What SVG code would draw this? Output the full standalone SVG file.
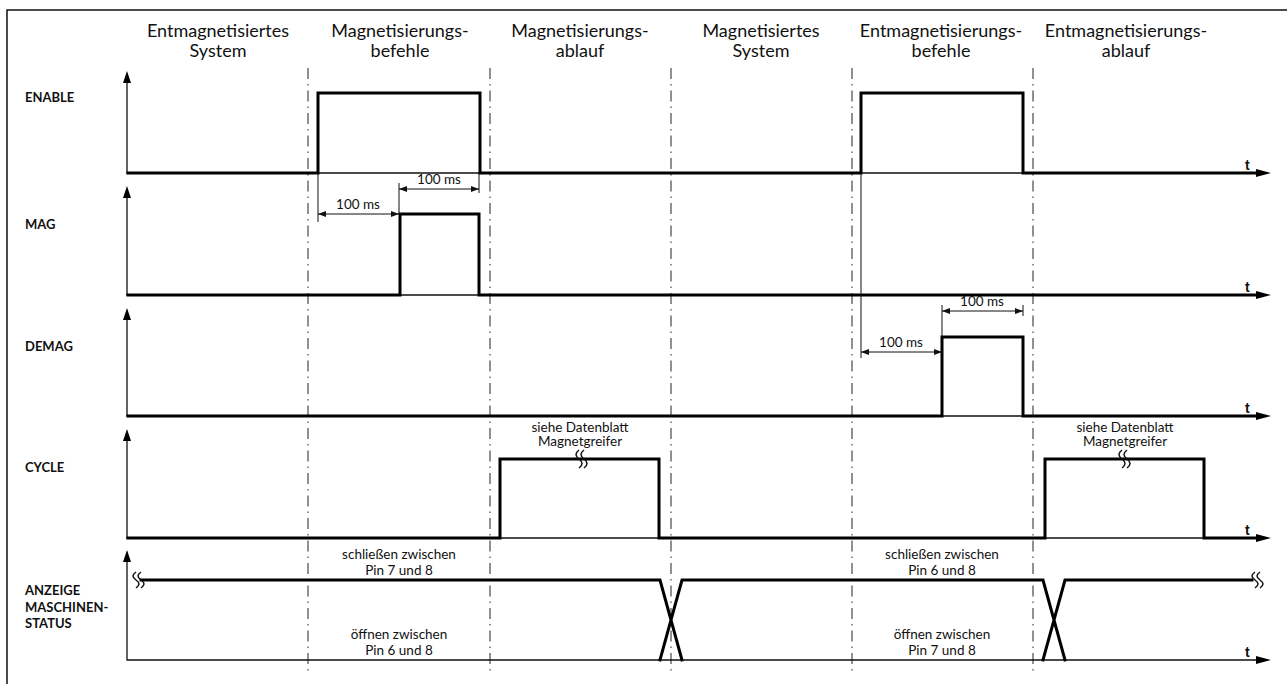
<svg xmlns="http://www.w3.org/2000/svg" width="1287" height="684" viewBox="0 0 1287 684">
<defs>
<style>
.hdr{font-family:Lato,"Open Sans","Liberation Sans",sans-serif;font-size:18px;fill:#111;text-anchor:middle}
.lbl{font-family:Lato,"Liberation Sans",sans-serif;font-size:13px;font-weight:bold;fill:#111}
.sm{font-family:Lato,"Liberation Sans",sans-serif;font-size:13.5px;fill:#111;text-anchor:middle}
.t{font-family:"Liberation Sans",Arial,sans-serif;font-size:14px;font-weight:bold;fill:#111}
.axis{stroke:#111;stroke-width:1.3;fill:none}
.sig{stroke:#000;stroke-width:3;fill:none;stroke-linejoin:miter;stroke-linecap:square}
.dd{stroke:#222;stroke-width:1;stroke-dasharray:11 5 1.5 5;fill:none}
.dim{stroke:#111;stroke-width:1;fill:none}
.sq{stroke:#111;stroke-width:1.5;fill:none}
.ah{fill:#000}
</style>
<marker id="da" viewBox="0 0 8 6" refX="8" refY="3" markerWidth="8" markerHeight="6" orient="auto-start-reverse" markerUnits="userSpaceOnUse">
<path d="M0,0 L8,3 L0,6 Z" fill="#111"/>
</marker>
</defs>
<rect width="1287" height="684" fill="#fff"/>
<path d="M7,690 V10 H1295" stroke="#111" stroke-width="1.5" fill="none"/>

<g id="headers">
<text class="hdr" x="218" y="37">Entmagnetisiertes</text>
<text class="hdr" x="218" y="57">System</text>
<text class="hdr" x="400" y="37">Magnetisierungs-</text>
<text class="hdr" x="400" y="57">befehle</text>
<text class="hdr" x="580" y="37">Magnetisierungs-</text>
<text class="hdr" x="580" y="57">ablauf</text>
<text class="hdr" x="761" y="37">Magnetisiertes</text>
<text class="hdr" x="761" y="57">System</text>
<text class="hdr" x="941" y="37">Entmagnetisierungs-</text>
<text class="hdr" x="941" y="57">befehle</text>
<text class="hdr" x="1126" y="37">Entmagnetisierungs-</text>
<text class="hdr" x="1126" y="57">ablauf</text>
</g>

<g id="phase-lines">
<line class="dd" x1="308" y1="68" x2="308" y2="674"/>
<line class="dd" x1="490" y1="68" x2="490" y2="674"/>
<line class="dd" x1="671" y1="68" x2="671" y2="674"/>
<line class="dd" x1="852" y1="68" x2="852" y2="674"/>
<line class="dd" x1="1033" y1="68" x2="1033" y2="674"/>
</g>

<g id="axes">
<path class="axis" d="M127,80 V173 H1258"/>
<path class="ah" d="M127,71 L123,83 L131,83 Z"/>
<path class="ah" d="M1271,173 L1256,169 L1256,177 Z"/>
<path class="axis" d="M127,196 V295 H1258"/>
<path class="ah" d="M127,186 L123,198 L131,198 Z"/>
<path class="ah" d="M1271,295 L1256,291 L1256,299 Z"/>
<path class="axis" d="M127,318 V416 H1258"/>
<path class="ah" d="M127,308 L123,320 L131,320 Z"/>
<path class="ah" d="M1271,416 L1256,412 L1256,420 Z"/>
<path class="axis" d="M127,439 V538 H1258"/>
<path class="ah" d="M127,429 L123,441 L131,441 Z"/>
<path class="ah" d="M1271,538 L1256,534 L1256,542 Z"/>
<path class="axis" d="M127,560 V660 H1258"/>
<path class="ah" d="M127,550 L123,562 L131,562 Z"/>
<path class="ah" d="M1271,660 L1256,656 L1256,664 Z"/>
<text class="t" x="1245" y="170">t</text>
<text class="t" x="1245" y="292">t</text>
<text class="t" x="1245" y="413">t</text>
<text class="t" x="1245" y="535">t</text>
<text class="t" x="1245" y="657">t</text>
</g>

<g id="enable">
<text class="lbl" x="25" y="102">ENABLE</text>
<path class="sig" d="M128,173 H318 V93 H480 V173 H861 V93 H1023 V173 H1256"/>
</g>

<g id="mag">
<text class="lbl" x="25" y="229">MAG</text>
<path class="sig" d="M128,295 H400 V214 H479 V295 H1256"/>
</g>

<g id="demag">
<text class="lbl" x="25" y="351">DEMAG</text>
<path class="sig" d="M128,416 H942 V337 H1023 V416 H1256"/>
</g>

<g id="cycle">
<text class="lbl" x="25" y="472">CYCLE</text>
<path class="sig" d="M128,538 H500 V459 H659 V538 H1045 V459 H1204 V538 H1256"/>
<text class="sm" x="580" y="432">siehe Datenblatt</text>
<text class="sm" x="580" y="446">Magnetgreifer</text>
<text class="sm" x="1125" y="432">siehe Datenblatt</text>
<text class="sm" x="1125" y="446">Magnetgreifer</text>
<path class="sq" d="M579,450 c-4,3 -4,6 0,9 c4,3 4,6 0,9 M584,450 c-4,3 -4,6 0,9 c4,3 4,6 0,9"/>
<path class="sq" d="M1122,450 c-4,3 -4,6 0,9 c4,3 4,6 0,9 M1127,450 c-4,3 -4,6 0,9 c4,3 4,6 0,9"/>
</g>

<g id="anzeige">
<text class="lbl" x="25" y="595">ANZEIGE</text>
<text class="lbl" x="25" y="612">MASCHINEN-</text>
<text class="lbl" x="25" y="628">STATUS</text>
<path class="sig" d="M141,580 H660 L682,660 M660,660 L682,580 H1043 L1065,660 M1043,660 L1065,580 H1252"/>
<path class="sq" d="M136,572 c-4,3 -4,5 0,8 c4,3 4,5 0,8 M141,572 c-4,3 -4,5 0,8 c4,3 4,5 0,8"/>
<path class="sq" d="M1255,572 c-4,3 -4,5 0,8 c4,3 4,5 0,8 M1260,572 c-4,3 -4,5 0,8 c4,3 4,5 0,8"/>
<text class="sm" x="399" y="559">schließen zwischen</text>
<text class="sm" x="399" y="575">Pin 7 und 8</text>
<text class="sm" x="399" y="639">öffnen zwischen</text>
<text class="sm" x="399" y="655">Pin 6 und 8</text>
<text class="sm" x="942" y="559">schließen zwischen</text>
<text class="sm" x="942" y="575">Pin 6 und 8</text>
<text class="sm" x="942" y="639">öffnen zwischen</text>
<text class="sm" x="942" y="655">Pin 7 und 8</text>
</g>

<g id="connectors">
<line class="dim" x1="318" y1="173" x2="318" y2="222"/>
<line class="dim" x1="399" y1="183" x2="399" y2="214"/>
<line class="dim" x1="479" y1="173" x2="479" y2="193"/>
<line class="dim" x1="318" y1="214" x2="399" y2="214" marker-start="url(#da)" marker-end="url(#da)"/>
<line class="dim" x1="399" y1="189" x2="479" y2="189" marker-start="url(#da)" marker-end="url(#da)"/>
<text class="sm" x="358" y="209">100 ms</text>
<text class="sm" x="439" y="184">100 ms</text>
<line class="dim" x1="861" y1="173" x2="861" y2="358"/>
<line class="dim" x1="942" y1="305" x2="942" y2="337"/>
<line class="dim" x1="1023" y1="305" x2="1023" y2="316"/>
<line class="dim" x1="861" y1="352" x2="942" y2="352" marker-start="url(#da)" marker-end="url(#da)"/>
<line class="dim" x1="942" y1="311" x2="1023" y2="311" marker-start="url(#da)" marker-end="url(#da)"/>
<text class="sm" x="901" y="347">100 ms</text>
<text class="sm" x="982" y="306">100 ms</text>
</g>
</svg>
